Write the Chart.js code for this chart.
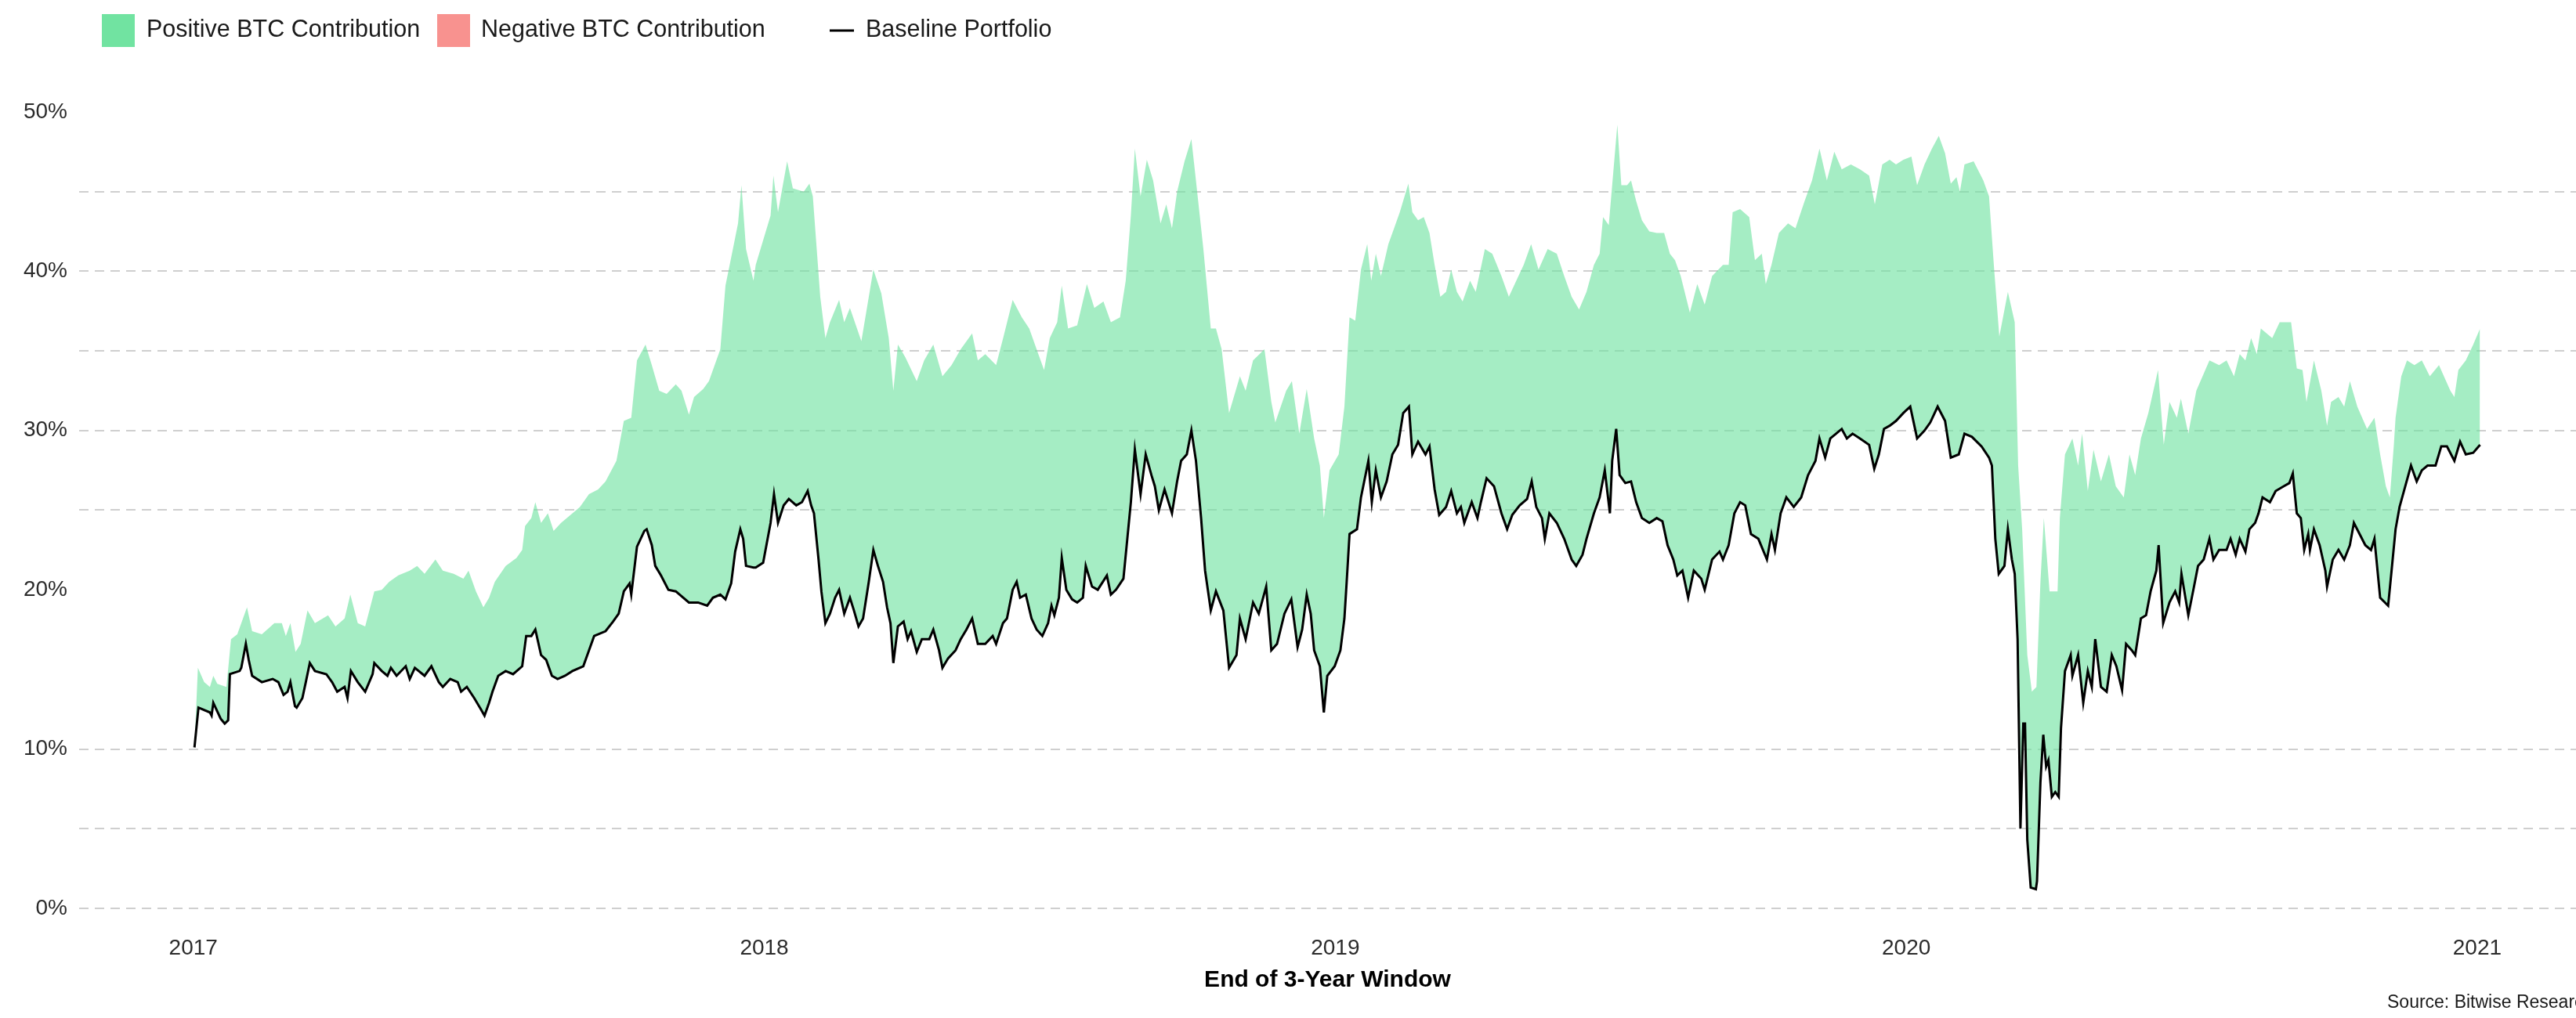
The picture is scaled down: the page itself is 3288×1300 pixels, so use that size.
<!DOCTYPE html>
<html lang="en">
<head>
    <meta charset="UTF-8">
    <title>BTC Contribution to a 3-Year Portfolio</title>
    <style>
        html, body {
            margin: 0;
            padding: 0;
            background: #fff;
            overflow: hidden;
        }
        canvas {
            display: block;
        }
    </style>
    <script src="https://cdn.jsdelivr.net/npm/chart.js"></script>
</head>
<body>
    <canvas id="btcChart" width="3288" height="1300"></canvas>
    <script>
        // [end of 3-year window (decimal year), return %]
        const baseline2017 = [[2017.002,10.1],[2017.009,12.6],[2017.029,12.3],[2017.032,12.1],[2017.035,12.9],[2017.048,11.9],[2017.055,11.6],[2017.061,11.8],[2017.064,14.7],[2017.081,14.9],[2017.084,15.1],[2017.092,16.6],[2017.097,15.6],[2017.103,14.6],[2017.120,14.2],[2017.139,14.4],[2017.149,14.2],[2017.158,13.4],[2017.165,13.6],[2017.170,14.2],[2017.178,12.7],[2017.181,12.6],[2017.191,13.2],[2017.197,14.2],[2017.204,15.4],[2017.213,14.9],[2017.233,14.7],[2017.243,14.2],[2017.252,13.6],[2017.265,13.9],[2017.270,13.2],[2017.276,14.9],[2017.288,14.2],[2017.301,13.6],[2017.314,14.7],[2017.317,15.4],[2017.330,14.9],[2017.340,14.6],[2017.346,15.1],[2017.356,14.6],[2017.372,15.2],[2017.379,14.4],[2017.388,15.1],[2017.405,14.6],[2017.417,15.2],[2017.430,14.2],[2017.437,13.9],[2017.450,14.4],[2017.463,14.2],[2017.469,13.6],[2017.479,13.9],[2017.492,13.2],[2017.502,12.6],[2017.510,12.1],[2017.518,12.9],[2017.524,13.6],[2017.534,14.6],[2017.547,14.9],[2017.560,14.7],[2017.576,15.2],[2017.583,17.1],[2017.592,17.1],[2017.599,17.5],[2017.609,15.9],[2017.618,15.6],[2017.628,14.6],[2017.638,14.4],[2017.651,14.6],[2017.664,14.9],[2017.683,15.2],[2017.693,16.2],[2017.702,17.1],[2017.722,17.4],[2017.735,18.0],[2017.745,18.5],[2017.754,19.9],[2017.764,20.4],[2017.767,19.7],[2017.777,22.7],[2017.790,23.7],[2017.794,23.8],[2017.803,22.8],[2017.809,21.5],[2017.819,20.9],[2017.832,20.0],[2017.845,19.9],[2017.868,19.2],[2017.884,19.2],[2017.900,19.0],[2017.910,19.5],[2017.923,19.7],[2017.932,19.4],[2017.942,20.4],[2017.949,22.4],[2017.958,23.8],[2017.963,23.2],[2017.968,21.5],[2017.981,21.4]];
        const baseline2018 = [[2017.985,21.4],[2017.998,21.7],[2018.011,24.2],[2018.017,26.0],[2018.024,24.2],[2018.034,25.3],[2018.043,25.7],[2018.056,25.3],[2018.066,25.5],[2018.076,26.2],[2018.082,25.3],[2018.087,24.8],[2018.095,21.9],[2018.100,19.9],[2018.107,17.9],[2018.115,18.5],[2018.124,19.5],[2018.131,20.0],[2018.140,18.5],[2018.150,19.5],[2018.157,18.7],[2018.165,17.7],[2018.173,18.2],[2018.183,20.5],[2018.191,22.5],[2018.199,21.5],[2018.208,20.5],[2018.215,18.9],[2018.221,17.9],[2018.226,15.4],[2018.234,17.7],[2018.244,18.0],[2018.251,16.9],[2018.257,17.4],[2018.267,16.1],[2018.276,16.9],[2018.289,16.9],[2018.296,17.5],[2018.306,16.2],[2018.312,15.1],[2018.322,15.7],[2018.335,16.2],[2018.344,16.9],[2018.354,17.5],[2018.364,18.2],[2018.374,16.6],[2018.387,16.6],[2018.400,17.1],[2018.406,16.6],[2018.418,17.9],[2018.425,18.2],[2018.435,20.0],[2018.442,20.5],[2018.448,19.5],[2018.458,19.7],[2018.468,18.2],[2018.477,17.5],[2018.487,17.1],[2018.497,17.9],[2018.503,19.0],[2018.508,18.4],[2018.516,19.5],[2018.521,22.0],[2018.529,20.0],[2018.539,19.4],[2018.548,19.2],[2018.558,19.5],[2018.563,21.5],[2018.574,20.2],[2018.584,20.0],[2018.600,20.9],[2018.607,19.7],[2018.616,20.0],[2018.629,20.7],[2018.642,25.5],[2018.649,28.8],[2018.659,26.0],[2018.668,28.5],[2018.678,27.2],[2018.684,26.5],[2018.691,25.0],[2018.701,26.3],[2018.714,24.8],[2018.723,26.8],[2018.730,28.1],[2018.740,28.5],[2018.748,30.0],[2018.756,28.1],[2018.765,24.5],[2018.772,21.2],[2018.782,18.7],[2018.791,19.9],[2018.804,18.7],[2018.814,15.1],[2018.827,15.9],[2018.833,18.2],[2018.843,16.9],[2018.856,19.2],[2018.866,18.5],[2018.879,20.2],[2018.888,16.2],[2018.898,16.6],[2018.911,18.5],[2018.923,19.4],[2018.934,16.4],[2018.942,17.5],[2018.950,19.7],[2018.957,18.5],[2018.963,16.2],[2018.973,15.2]];
        const baseline2019 = [[2018.980,12.3],[2018.986,14.6],[2018.999,15.2],[2019.009,16.2],[2019.016,18.2],[2019.020,20.5],[2019.025,23.5],[2019.038,23.8],[2019.045,25.8],[2019.058,28.1],[2019.064,25.5],[2019.071,27.5],[2019.080,25.8],[2019.090,26.8],[2019.100,28.5],[2019.110,29.1],[2019.119,31.1],[2019.129,31.5],[2019.135,28.5],[2019.145,29.3],[2019.158,28.5],[2019.165,29.0],[2019.174,26.3],[2019.182,24.7],[2019.194,25.2],[2019.203,26.2],[2019.213,24.8],[2019.220,25.2],[2019.226,24.2],[2019.239,25.5],[2019.249,24.5],[2019.255,25.5],[2019.265,27.0],[2019.278,26.5],[2019.291,24.8],[2019.301,23.8],[2019.310,24.7],[2019.323,25.3],[2019.336,25.7],[2019.344,26.8],[2019.352,25.2],[2019.362,24.5],[2019.367,23.2],[2019.375,24.8],[2019.388,24.2],[2019.401,23.2],[2019.414,21.9],[2019.422,21.5],[2019.433,22.2],[2019.440,23.2],[2019.453,24.8],[2019.463,25.8],[2019.472,27.5],[2019.481,24.8],[2019.485,28.1],[2019.492,30.1],[2019.498,27.2],[2019.508,26.7],[2019.518,26.8],[2019.527,25.5],[2019.537,24.5],[2019.550,24.2],[2019.563,24.5],[2019.573,24.3],[2019.582,22.8],[2019.592,21.9],[2019.599,20.9],[2019.608,21.2],[2019.618,19.5],[2019.628,21.2],[2019.641,20.7],[2019.647,20.0],[2019.660,21.9],[2019.673,22.4],[2019.679,21.9],[2019.689,22.8],[2019.699,24.8],[2019.709,25.5],[2019.718,25.3],[2019.728,23.5],[2019.741,23.2],[2019.756,21.9],[2019.764,23.5],[2019.770,22.5],[2019.780,24.8],[2019.790,25.8],[2019.803,25.2],[2019.816,25.8],[2019.828,27.2],[2019.841,28.1],[2019.848,29.5],[2019.858,28.3],[2019.867,29.5],[2019.877,29.8],[2019.887,30.1],[2019.896,29.5],[2019.906,29.8],[2019.919,29.5],[2019.935,29.1],[2019.944,27.6],[2019.952,28.5],[2019.961,30.1],[2019.971,30.3]];
        const baseline2020 = [[2019.982,30.6],[2019.995,31.1],[2020.007,31.5],[2020.019,29.5],[2020.032,30.0],[2020.042,30.5],[2020.055,31.5],[2020.068,30.6],[2020.078,28.3],[2020.092,28.5],[2020.102,29.8],[2020.115,29.6],[2020.132,29.0],[2020.145,28.3],[2020.150,27.8],[2020.156,23.2],[2020.162,21.0],[2020.172,21.5],[2020.178,23.8],[2020.185,21.9],[2020.190,21.0],[2020.195,16.9],[2020.200,5.0],[2020.205,11.6],[2020.208,11.6],[2020.212,4.3],[2020.218,1.3],[2020.227,1.2],[2020.229,1.7],[2020.235,7.9],[2020.240,10.9],[2020.245,8.9],[2020.249,9.3],[2020.255,7.0],[2020.261,7.3],[2020.267,7.0],[2020.271,11.3],[2020.278,14.9],[2020.288,15.9],[2020.291,14.6],[2020.301,15.9],[2020.310,12.9],[2020.318,14.9],[2020.325,13.9],[2020.331,16.9],[2020.341,13.9],[2020.351,13.6],[2020.360,15.9],[2020.368,15.2],[2020.378,13.7],[2020.385,16.6],[2020.395,16.2],[2020.401,15.9],[2020.411,18.2],[2020.420,18.4],[2020.428,19.9],[2020.438,21.2],[2020.442,22.8],[2020.450,17.9],[2020.461,19.2],[2020.471,19.9],[2020.478,19.2],[2020.482,21.0],[2020.494,18.4],[2020.504,20.2],[2020.511,21.5],[2020.521,21.9],[2020.531,23.2],[2020.538,21.9],[2020.548,22.5],[2020.561,22.5],[2020.568,23.2],[2020.577,22.2],[2020.584,23.2],[2020.594,22.4],[2020.601,23.8],[2020.611,24.2],[2020.617,24.8],[2020.624,25.8],[2020.637,25.5],[2020.647,26.2],[2020.661,26.5],[2020.671,26.7],[2020.677,27.3],[2020.684,24.8],[2020.691,24.5],[2020.697,22.5],[2020.704,23.5],[2020.707,22.5],[2020.714,23.8],[2020.724,22.8],[2020.734,21.2],[2020.737,20.2],[2020.747,21.9],[2020.757,22.5],[2020.767,21.9],[2020.777,22.8],[2020.784,24.2],[2020.794,23.5],[2020.804,22.8],[2020.814,22.5],[2020.820,23.2],[2020.830,19.5],[2020.844,19.0],[2020.850,21.2],[2020.857,23.8],[2020.864,25.2],[2020.874,26.5],[2020.884,27.8],[2020.894,26.8],[2020.903,27.5],[2020.913,27.8],[2020.927,27.8],[2020.937,29.0],[2020.947,29.0],[2020.960,28.1],[2020.970,29.3],[2020.980,28.5],[2020.993,28.6],[2021.005,29.1]];

        const withBtc2017 = [[2017.002,10.1],[2017.008,15.1],[2017.019,14.2],[2017.029,13.9],[2017.035,14.6],[2017.042,14.1],[2017.058,13.9],[2017.066,16.9],[2017.077,17.2],[2017.094,18.9],[2017.103,17.4],[2017.120,17.2],[2017.142,17.9],[2017.155,17.9],[2017.162,17.1],[2017.170,17.9],[2017.179,16.1],[2017.188,16.6],[2017.200,18.7],[2017.213,17.9],[2017.236,18.4],[2017.249,17.7],[2017.265,18.2],[2017.275,19.7],[2017.288,17.9],[2017.301,17.7],[2017.317,19.9],[2017.330,20.0],[2017.343,20.5],[2017.359,20.9],[2017.379,21.2],[2017.392,21.5],[2017.405,21.0],[2017.424,21.9],[2017.437,21.2],[2017.456,21.0],[2017.473,20.7],[2017.482,21.2],[2017.495,19.9],[2017.508,18.9],[2017.518,19.5],[2017.528,20.5],[2017.547,21.5],[2017.566,22.0],[2017.576,22.5],[2017.581,24.0],[2017.592,24.5],[2017.599,25.5],[2017.609,24.2],[2017.621,24.8],[2017.631,23.7],[2017.644,24.2],[2017.664,24.8],[2017.677,25.2],[2017.693,26.0],[2017.709,26.3],[2017.722,26.8],[2017.741,28.1],[2017.754,30.6],[2017.767,30.8],[2017.777,34.4],[2017.792,35.4],[2017.803,34.1],[2017.816,32.5],[2017.829,32.3],[2017.845,32.9],[2017.855,32.5],[2017.868,31.0],[2017.877,32.1],[2017.893,32.6],[2017.903,33.1],[2017.923,35.1],[2017.932,39.1],[2017.945,41.4],[2017.954,43.0],[2017.960,45.4],[2017.968,41.4],[2017.981,39.4]];
        const withBtc2018 = [[2017.985,40.4],[2018.011,43.5],[2018.016,46.0],[2018.024,43.7],[2018.040,46.9],[2018.050,45.2],[2018.069,45.0],[2018.079,45.5],[2018.085,44.7],[2018.098,38.4],[2018.107,35.8],[2018.115,36.8],[2018.131,38.2],[2018.140,36.8],[2018.150,37.7],[2018.170,35.6],[2018.191,40.1],[2018.205,38.6],[2018.218,35.8],[2018.226,32.5],[2018.234,35.4],[2018.247,34.6],[2018.267,33.1],[2018.280,34.4],[2018.296,35.4],[2018.312,33.4],[2018.328,34.1],[2018.344,35.1],[2018.364,36.1],[2018.374,34.4],[2018.387,34.8],[2018.406,34.1],[2018.419,35.9],[2018.435,38.2],[2018.451,37.1],[2018.464,36.4],[2018.480,34.8],[2018.490,33.8],[2018.500,35.8],[2018.513,36.8],[2018.521,39.1],[2018.532,36.4],[2018.548,36.6],[2018.565,39.2],[2018.578,37.7],[2018.594,38.1],[2018.607,36.8],[2018.623,37.1],[2018.633,39.4],[2018.642,43.5],[2018.649,47.7],[2018.659,44.7],[2018.670,47.0],[2018.681,45.7],[2018.694,43.0],[2018.704,44.2],[2018.714,42.7],[2018.723,45.0],[2018.736,46.9],[2018.748,48.3],[2018.756,45.7],[2018.769,41.4],[2018.782,36.4],[2018.791,36.4],[2018.801,35.1],[2018.814,31.1],[2018.833,33.4],[2018.843,32.5],[2018.856,34.4],[2018.876,35.1],[2018.888,31.8],[2018.895,30.5],[2018.914,32.5],[2018.924,33.1],[2018.937,29.8],[2018.950,32.6],[2018.963,29.5],[2018.973,27.8]];
        const withBtc2019 = [[2018.980,24.5],[2018.990,27.5],[2019.006,28.5],[2019.016,31.5],[2019.025,37.1],[2019.035,36.9],[2019.045,40.1],[2019.056,41.7],[2019.063,39.4],[2019.071,41.1],[2019.080,39.7],[2019.093,41.7],[2019.103,42.7],[2019.113,43.7],[2019.128,45.5],[2019.135,43.7],[2019.145,43.2],[2019.155,43.4],[2019.165,42.4],[2019.174,40.4],[2019.184,38.4],[2019.194,38.7],[2019.203,40.1],[2019.213,38.7],[2019.223,38.1],[2019.236,39.4],[2019.246,38.7],[2019.262,41.4],[2019.275,41.1],[2019.291,39.7],[2019.304,38.4],[2019.317,39.4],[2019.330,40.4],[2019.343,41.7],[2019.356,40.1],[2019.372,41.4],[2019.388,41.1],[2019.401,39.7],[2019.414,38.4],[2019.427,37.6],[2019.440,38.7],[2019.453,40.4],[2019.463,41.1],[2019.469,43.4],[2019.479,42.9],[2019.494,49.2],[2019.501,45.4],[2019.511,45.4],[2019.518,45.7],[2019.527,44.4],[2019.537,43.2],[2019.550,42.5],[2019.563,42.4],[2019.576,42.4],[2019.586,41.1],[2019.595,40.7],[2019.605,39.7],[2019.621,37.4],[2019.634,39.2],[2019.647,37.9],[2019.660,39.7],[2019.679,40.4],[2019.689,40.4],[2019.696,43.7],[2019.709,43.9],[2019.725,43.4],[2019.735,40.7],[2019.747,41.1],[2019.754,39.2],[2019.764,40.4],[2019.777,42.4],[2019.793,43.0],[2019.806,42.7],[2019.822,44.4],[2019.835,45.7],[2019.848,47.7],[2019.861,45.7],[2019.874,47.5],[2019.887,46.4],[2019.903,46.7],[2019.919,46.4],[2019.935,46.0],[2019.945,44.2],[2019.958,46.7],[2019.971,47.0]];
        const withBtc2020 = [[2019.982,46.7],[2019.995,47.0],[2020.009,47.2],[2020.019,45.4],[2020.032,46.7],[2020.045,47.7],[2020.057,48.5],[2020.068,47.4],[2020.078,45.5],[2020.088,45.9],[2020.094,45.0],[2020.102,46.7],[2020.118,46.9],[2020.135,45.7],[2020.145,44.7],[2020.154,40.1],[2020.163,35.9],[2020.178,38.7],[2020.190,36.8],[2020.196,27.8],[2020.203,23.8],[2020.212,15.9],[2020.220,13.6],[2020.228,13.9],[2020.235,20.5],[2020.241,24.5],[2020.251,19.9],[2020.265,19.9],[2020.269,24.5],[2020.278,28.5],[2020.291,29.5],[2020.301,27.8],[2020.308,29.8],[2020.318,26.2],[2020.328,28.8],[2020.341,26.8],[2020.355,28.5],[2020.367,26.5],[2020.381,25.8],[2020.391,28.5],[2020.401,27.2],[2020.411,29.5],[2020.424,31.1],[2020.441,33.8],[2020.451,29.1],[2020.461,31.8],[2020.474,30.8],[2020.481,32.0],[2020.494,29.8],[2020.508,32.5],[2020.531,34.4],[2020.548,34.1],[2020.561,34.4],[2020.574,33.4],[2020.584,34.8],[2020.594,34.4],[2020.604,35.8],[2020.614,34.8],[2020.621,36.4],[2020.641,35.8],[2020.654,36.8],[2020.674,36.8],[2020.684,33.9],[2020.694,33.8],[2020.701,31.8],[2020.714,34.4],[2020.727,32.5],[2020.737,30.3],[2020.744,31.8],[2020.757,32.1],[2020.767,31.5],[2020.777,33.1],[2020.790,31.5],[2020.807,30.1],[2020.820,30.8],[2020.830,28.5],[2020.840,26.5],[2020.847,25.8],[2020.854,29.1],[2020.857,30.8],[2020.867,33.4],[2020.877,34.4],[2020.890,34.1],[2020.903,34.4],[2020.917,33.4],[2020.933,34.1],[2020.953,32.5],[2020.960,32.1],[2020.967,33.8],[2020.980,34.4],[2020.993,35.4],[2021.005,36.4]];

        const yearTicks = [2017, 2018, 2019, 2020, 2021];
        const pctTicks = [0, 5, 10, 15, 20, 25, 30, 35, 40, 45, 50];
        const legendLabels = ['Positive BTC Contribution', 'Negative BTC Contribution', 'Baseline Portfolio'];
        const xAxisTitle = 'End of 3-Year Window';
        const sourceNote = 'Source: Bitwise Research';

        const FONT = '"Liberation Sans", Arial, sans-serif';
        const GREEN = '#71e3a1';
        const RED = '#f8928f';
        Chart.defaults.font.family = FONT;

        const toPoints = pairs => pairs.map(p => ({ x: p[0], y: p[1] }));
        const baselinePoints = toPoints([].concat(baseline2017, baseline2018, baseline2019, baseline2020));
        const withBtcPoints = toPoints([].concat(withBtc2017, withBtc2018, withBtc2019, withBtc2020));

        // these gridlines are absent in the original
        const hiddenGrid = [15, 20, 50];

        // legend + source note, placed like the ggplot original
        const annotations = {
            id: 'annotations',
            afterDraw(chart) {
                const c = chart.ctx;
                c.save();
                c.textBaseline = 'middle';
                c.font = '30.5px ' + FONT;

                c.fillStyle = GREEN;
                c.fillRect(130, 18, 42, 42);
                c.fillStyle = '#1a1a1a';
                c.fillText(legendLabels[0], 187, 39);

                c.fillStyle = RED;
                c.fillRect(558, 18, 42, 42);
                c.fillStyle = '#1a1a1a';
                c.fillText(legendLabels[1], 614, 39);

                c.strokeStyle = '#000';
                c.lineWidth = 3;
                c.beginPath();
                c.moveTo(1059, 39);
                c.lineTo(1090, 39);
                c.stroke();
                c.fillText(legendLabels[2], 1105, 39);

                c.font = '23px ' + FONT;
                c.fillText(sourceNote, 3047, 1281);
                c.restore();
            }
        };

        new Chart(document.getElementById('btcChart'), {
            type: 'line',
            data: {
                datasets: [
                    {
                        label: legendLabels[2],
                        data: baselinePoints,
                        borderColor: '#000',
                        borderWidth: 3,
                        pointRadius: 0,
                        fill: false,
                        order: 0
                    },
                    {
                        label: 'With BTC',
                        data: withBtcPoints,
                        borderWidth: 0,
                        borderColor: 'rgba(0,0,0,0)',
                        pointRadius: 0,
                        fill: {
                            target: 0,
                            above: 'rgba(113, 227, 161, 0.63)',
                            below: 'rgba(248, 146, 143, 0.63)'
                        },
                        order: 1
                    }
                ]
            },
            options: {
                responsive: false,
                animation: false,
                devicePixelRatio: 1,
                events: [],
                layout: {
                    padding: { top: 114.5, left: 0, right: 0, bottom: 30 }
                },
                elements: {
                    line: { tension: 0 }
                },
                plugins: {
                    legend: { display: false },
                    tooltip: { enabled: false }
                },
                scales: {
                    x: {
                        type: 'linear',
                        min: 2016.8,
                        max: 2021.173,
                        afterBuildTicks: scale => {
                            scale.ticks = yearTicks.map(v => ({ value: v }));
                        },
                        ticks: {
                            callback: v => String(v),
                            font: { size: 28 },
                            color: '#2b2b2b',
                            padding: 6,
                            maxRotation: 0,
                            autoSkip: false
                        },
                        grid: { display: false, drawTicks: false },
                        border: { display: false },
                        title: {
                            display: true,
                            text: xAxisTitle,
                            font: { size: 30, weight: 'bold' },
                            color: '#000',
                            padding: { top: 0, bottom: 0 }
                        }
                    },
                    y: {
                        min: -1.4,
                        max: 51.4,
                        afterBuildTicks: scale => {
                            scale.ticks = pctTicks.map(v => ({ value: v }));
                        },
                        afterFit: scale => {
                            scale.width = 101;
                        },
                        ticks: {
                            callback: v => (v % 10 === 0 ? v + '%' : ''),
                            font: { size: 28 },
                            color: '#2b2b2b',
                            padding: 15
                        },
                        grid: {
                            color: ctx => (hiddenGrid.includes(ctx.tick && ctx.tick.value) ? 'rgba(0,0,0,0)' : '#cfcfcf'),
                            lineWidth: 2,
                            drawTicks: false
                        },
                        border: { display: false, dash: [12, 8] }
                    }
                }
            },
            plugins: [annotations]
        });
    </script>
</body>
</html>
